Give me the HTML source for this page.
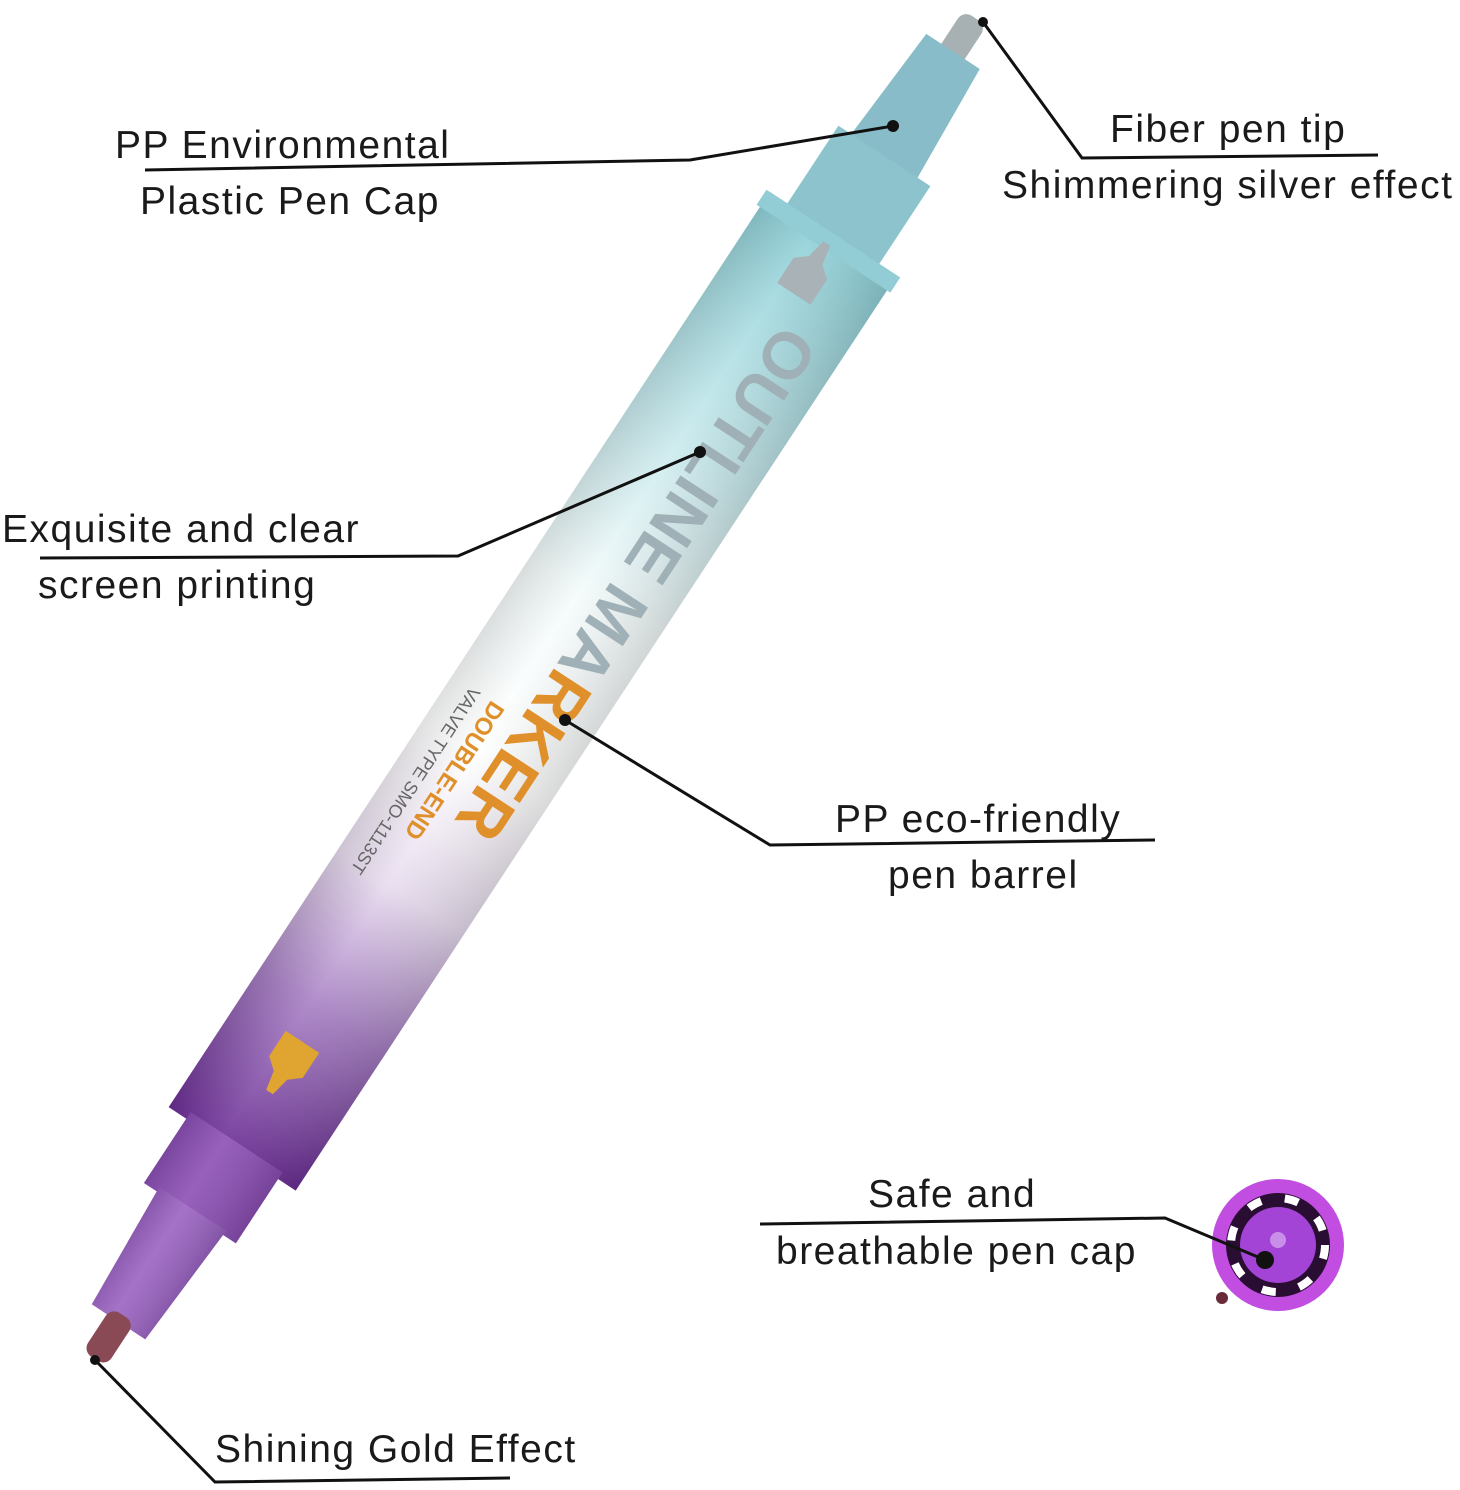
<!DOCTYPE html>
<html><head><meta charset="utf-8"><style>
html,body{margin:0;padding:0;background:#fff;}
svg{display:block;}
text{font-family:"Liberation Sans",sans-serif;fill:#1a1a1a;}
</style></head><body>
<svg width="1460" height="1490" viewBox="0 0 1460 1490" xmlns="http://www.w3.org/2000/svg">
<defs>
<linearGradient id="barrel" x1="0" y1="0" x2="0" y2="1">
<stop offset="0" stop-color="#8ccfd6"/>
<stop offset="0.2" stop-color="#bfe6ea"/>
<stop offset="0.4" stop-color="#f4fbfb"/>
<stop offset="0.58" stop-color="#ffffff"/>
<stop offset="0.72" stop-color="#e8dcef"/>
<stop offset="0.85" stop-color="#a77fc4"/>
<stop offset="1" stop-color="#6b2e95"/>
</linearGradient>
<linearGradient id="shade" x1="0" y1="0" x2="1" y2="0">
<stop offset="0" stop-color="#000" stop-opacity="0.12"/>
<stop offset="0.4" stop-color="#fff" stop-opacity="0.1"/>
<stop offset="1" stop-color="#000" stop-opacity="0.15"/>
</linearGradient>
</defs>

<g transform="translate(975,18) rotate(33.3)">
  <rect x="-14" y="0" width="28" height="50" rx="10" fill="#a7b0b3"/>
  <path d="M-32 40 L32 40 L40 170 L-40 170 Z" fill="#88bcc8"/>
  <rect x="-55" y="165" width="110" height="100" fill="#8cc3cd"/>
  <rect x="-76" y="258" width="152" height="1095" fill="url(#barrel)"/>
  <rect x="-76" y="258" width="152" height="1095" fill="url(#shade)"/>
  <rect x="-80" y="258" width="160" height="18" fill="#92ccd4"/>
  <rect x="-55" y="1345" width="110" height="85" fill="#8b4fb4"/>
  <rect x="-55" y="1345" width="110" height="85" fill="url(#shade)"/>
  <path d="M-40 1425 L40 1425 L32 1560 L-32 1560 Z" fill="#9a63c2"/>
  <path d="M-40 1425 L40 1425 L32 1560 L-32 1560 Z" fill="url(#shade)"/>
  <rect x="-14" y="1552" width="28" height="52" rx="10" fill="#8a4a55"/>
  <path d="M-20 330 L20 330 L20 300 L8 290 L4 270 L-4 270 L-8 290 L-20 300 Z" fill="#a9b2b6"/>
  <path d="M-20 1285 L20 1285 L20 1255 L8 1245 L4 1225 L-4 1225 L-8 1245 L-20 1255 Z" fill="#e0a531" transform="rotate(180 0 1255)"/>
  <g transform="rotate(90)">
    <text x="360" y="-5" font-size="66" font-weight="bold" style="fill:#9fb0b6">OUTLINE MA<tspan style="fill:#e0902a">RKER</tspan></text>
    <text x="835" y="30" font-size="24" font-weight="bold" style="fill:#e0902a">DOUBLE-END</text>
    <text x="835" y="55" font-size="18" style="fill:#666">VALVE TYPE SMO-1113ST</text>
  </g>
</g>

<circle cx="1278" cy="1245" r="66" fill="#c14ee0"/>
<circle cx="1278" cy="1245" r="52" fill="#2a0d33"/>
<circle cx="1278" cy="1245" r="47" fill="none" stroke="#fff" stroke-width="8" stroke-dasharray="14 24"/>
<circle cx="1278" cy="1245" r="38" fill="#a344d6"/>
<circle cx="1278" cy="1240" r="8" fill="#c88fe8"/>
<circle cx="1222" cy="1298" r="6" fill="#6a2a3a"/>

<g stroke="#111" stroke-width="3" fill="none">
<polyline points="145,170 690,160 893,126"/>
<polyline points="983,22 1082,158 1378,155"/>
<polyline points="40,558 458,556 700,452"/>
<polyline points="565,720 770,845 1155,840"/>
<polyline points="760,1224 1165,1218 1265,1260"/>
<polyline points="95,1360 215,1482 510,1478"/>
</g>
<g fill="#111">
<circle cx="893" cy="126" r="6"/><circle cx="983" cy="22" r="5"/>
<circle cx="700" cy="452" r="6"/><circle cx="565" cy="720" r="6"/>
<circle cx="1265" cy="1260" r="9"/><circle cx="95" cy="1360" r="5"/>
</g>

<g font-size="39" letter-spacing="1.5">
<text x="115" y="158">PP Environmental</text>
<text x="140" y="214">Plastic Pen Cap</text>
<text x="1110" y="142">Fiber pen tip</text>
<text x="1002" y="198">Shimmering silver effect</text>
<text x="2" y="542">Exquisite and clear</text>
<text x="38" y="598">screen printing</text>
<text x="835" y="832">PP eco-friendly</text>
<text x="888" y="888">pen barrel</text>
<text x="868" y="1207">Safe and</text>
<text x="776" y="1264">breathable pen cap</text>
<text x="215" y="1462">Shining Gold Effect</text>
</g>
</svg>
</body></html>
